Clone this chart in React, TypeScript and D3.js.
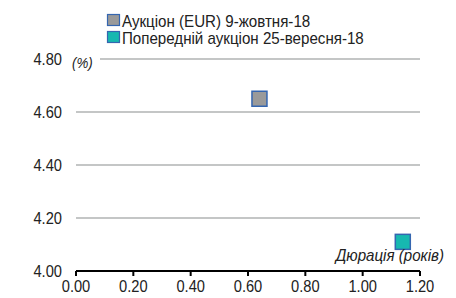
import React from "react";
import * as d3 from "d3";

const seriesNames = ["Аукціон (EUR) 9-жовтня-18", "Попередній аукціон 25-вересня-18"];
const seriesColors = ["#9a9a9a", "#17b8b0"];
const durations = [0.64, 1.14];
const yields = [4.65, 4.11];
const xTicks = [0, 0.2, 0.4, 0.6, 0.8, 1.0, 1.2];
const yTicks = [4.0, 4.2, 4.4, 4.6, 4.8];

const W = 456;
const H = 298;
const font = "'Liberation Sans', Arial, sans-serif";
const SX = 0.89;

// condensed look: scale text horizontally
const Label = ({ x, y, anchor = "start", size = 16.5, italic = false, children }: any) => (
  <text
    transform={`translate(${x},${y}) scale(${SX},1)`}
    textAnchor={anchor}
    fontSize={size}
    fontStyle={italic ? "italic" : "normal"}
    fill="#222"
  >
    {children}
  </text>
);

export default function App() {
  const x = d3.scaleLinear().domain([0, 1.2]).range([76, 420]);
  const y = d3.scaleLinear().domain([4.0, 4.8]).range([271, 59]);
  const size = 15;

  return (
    <svg width={W} height={H} style={{ position: "absolute", left: 0, top: 0 }} fontFamily={font}>
      {yTicks.map((t) => (
        <g key={t}>
          {t > 4.0 && (
            <line
              x1={t === 4.8 ? 100 : 76}
              x2={420}
              y1={y(t)}
              y2={y(t)}
              stroke="#c4c6c6"
              strokeWidth={2}
            />
          )}
          <Label x={62} y={y(t) + 6} anchor="end">
            {t.toFixed(2)}
          </Label>
        </g>
      ))}
      <Label x={72} y={68} size={15} italic>
        (%)
      </Label>
      <line x1={76} x2={420} y1={y(4.0)} y2={y(4.0)} stroke="#000" strokeWidth={2} />
      {xTicks.map((t) => (
        <g key={t}>
          <line x1={x(t)} x2={x(t)} y1={y(4.0)} y2={y(4.0) + 5} stroke="#000" strokeWidth={2} />
          <Label x={x(t)} y={292} anchor="middle">
            {t.toFixed(2)}
          </Label>
        </g>
      ))}
      {durations.map((d, i) => (
        <rect
          key={i}
          x={x(d) - size / 2}
          y={y(yields[i]) - size / 2}
          width={size}
          height={size}
          fill={seriesColors[i]}
          stroke="#3566b0"
          strokeWidth={1.5}
        />
      ))}
      <Label x={444} y={261} anchor="end" size={17} italic>
        Дюрація (років)
      </Label>
      {seriesNames.map((n, i) => (
        <g key={n}>
          <rect x={107.5} y={14.5 + i * 17} width={12} height={11} fill={seriesColors[i]} stroke="#3566b0" strokeWidth={1.2} />
          <Label x={122} y={27 + i * 17.3} size={17}>
            {n}
          </Label>
        </g>
      ))}
    </svg>
  );
}
